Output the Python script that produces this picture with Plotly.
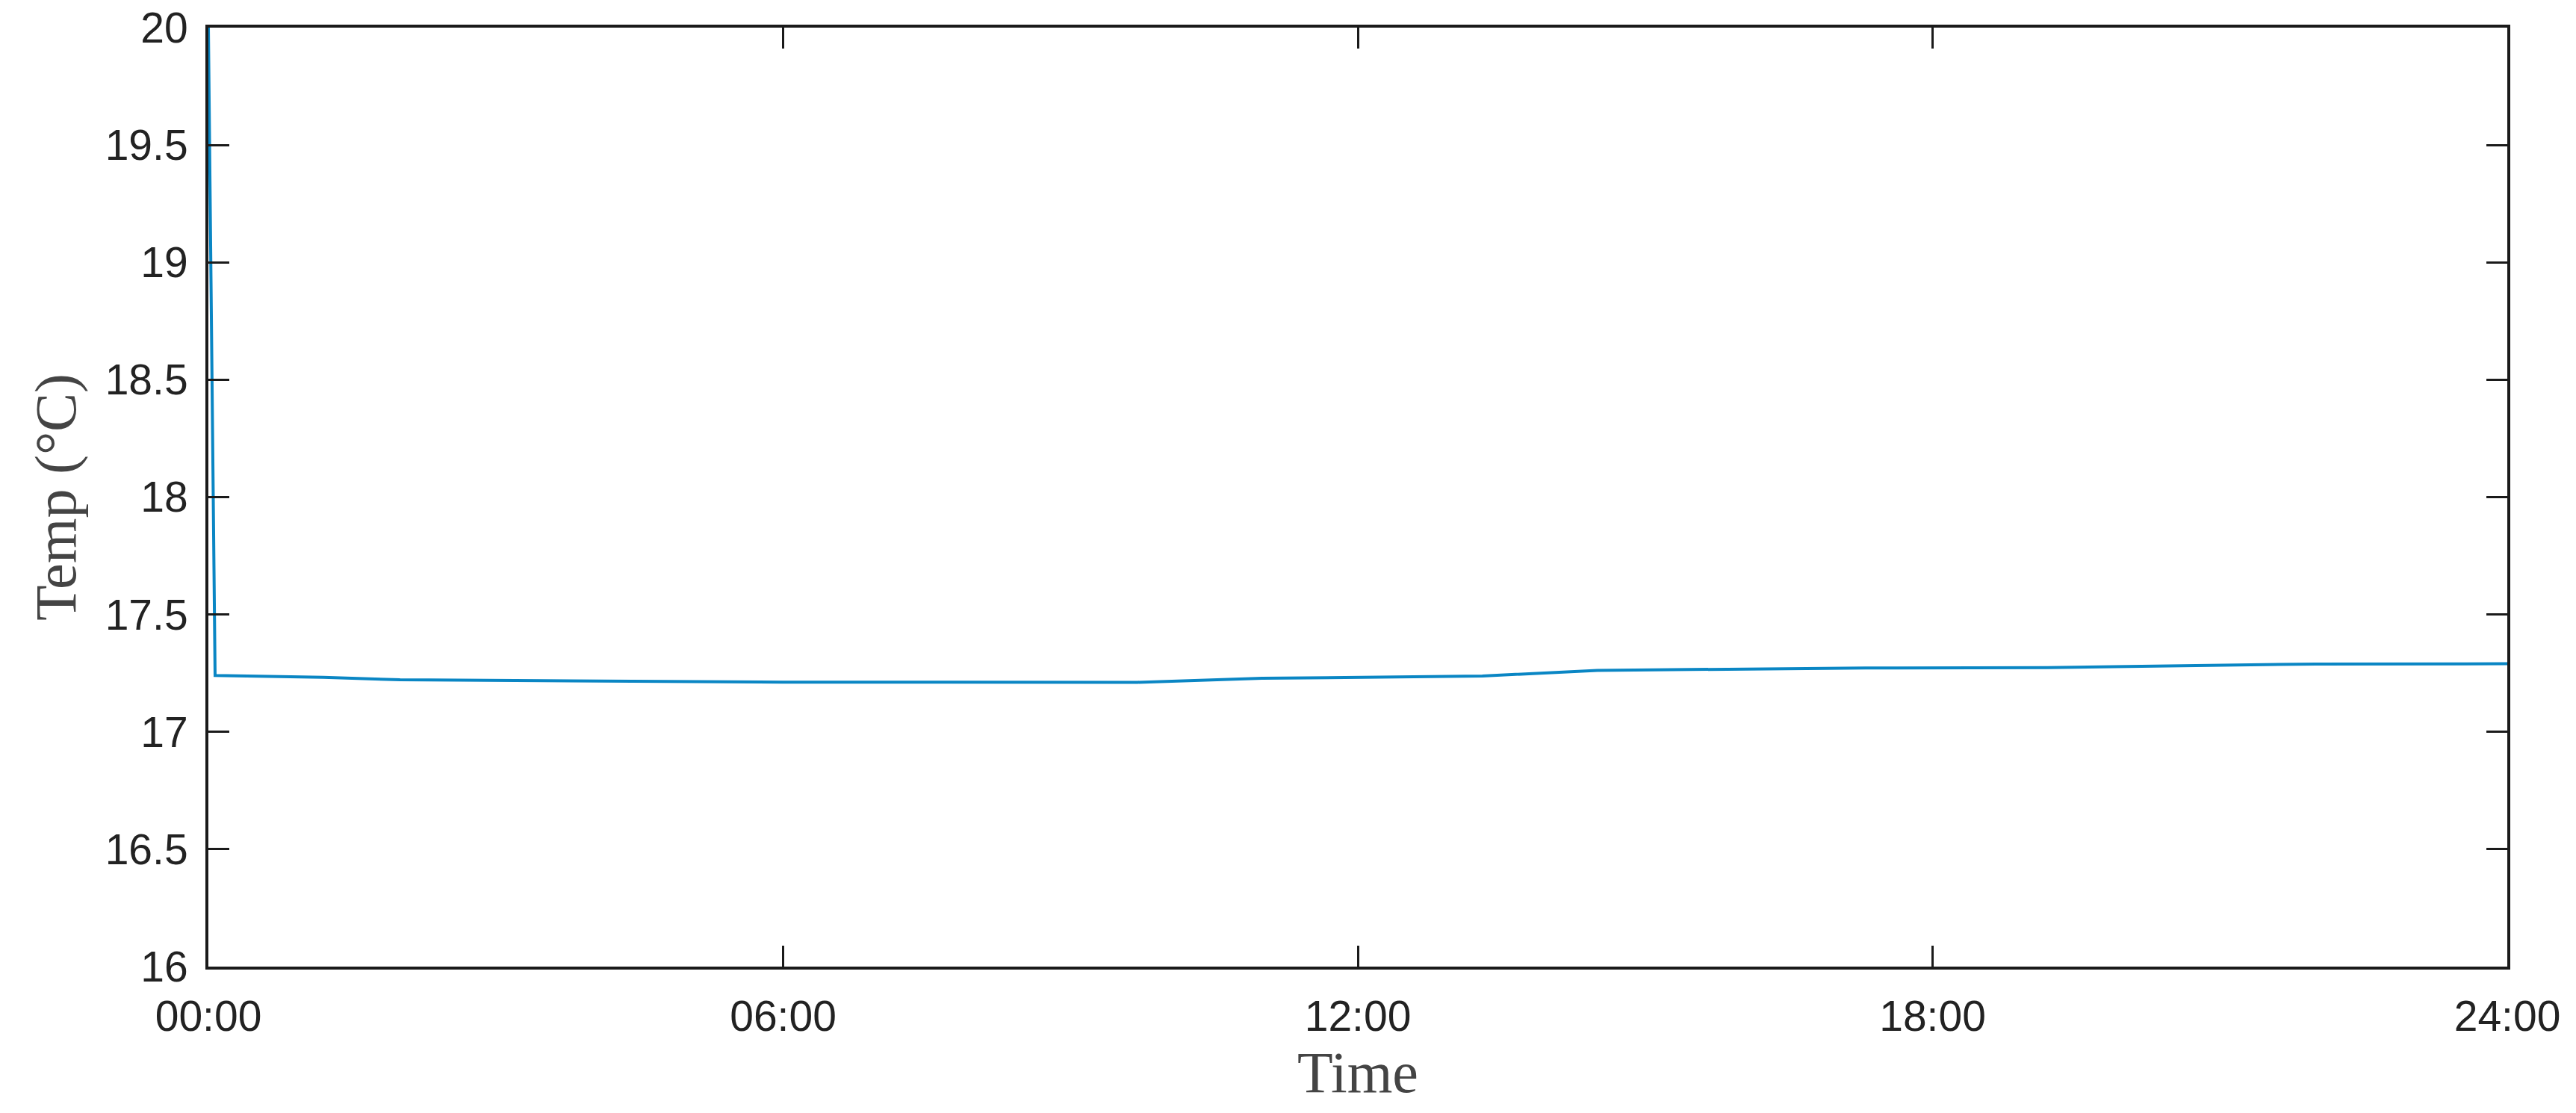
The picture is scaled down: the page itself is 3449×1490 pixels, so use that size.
import plotly.graph_objects as go

# Stunden seit Mitternacht und gemessene Temperatur
stunden = [0.0, 0.07, 1.2, 2.0, 3.5, 6.0, 9.7, 11.0, 13.3, 14.5, 17.3, 19.2, 22.0, 24.0]
temperatur = [20.0, 17.24, 17.232, 17.222, 17.218, 17.212, 17.211, 17.228, 17.238, 17.262, 17.272, 17.274, 17.289, 17.29]

x_ticks = [0, 6, 12, 18, 24]
x_labels = ["00:00", "06:00", "12:00", "18:00", "24:00"]
y_ticks = [16, 16.5, 17, 17.5, 18, 18.5, 19, 19.5, 20]

fig = go.Figure()
fig.add_trace(go.Scatter(
    x=stunden,
    y=temperatur,
    mode="lines",
    line=dict(color="#0a86c4", width=4),
    showlegend=False
))

achse = dict(
    showline=True, linecolor="#1a1a1a", linewidth=4, mirror="ticks",
    ticks="inside", ticklen=28, tickwidth=3, tickcolor="#1a1a1a",
    showgrid=False, zeroline=False, ticklabeloverflow="allow", automargin=False,
    tickfont=dict(family="Liberation Sans, Arial", size=57, color="#222222"),
)

fig.update_layout(
    width=3449, height=1490,
    margin=dict(l=279, r=92, t=37, b=196),
    paper_bgcolor="white", plot_bgcolor="white",
    xaxis=dict(
        achse, range=[0, 24], tickvals=x_ticks, ticktext=x_labels,
        ticklabelstandoff=14,
        title=dict(text="Time", font=dict(family="Liberation Serif, Times New Roman", size=78, color="#444444"), standoff=0),
    ),
    yaxis=dict(
        achse, range=[16, 20], tickvals=y_ticks, ticktext=[f"{v:g}" for v in y_ticks],
        ticklabelstandoff=12,
        title=dict(text="Temp (°C)", font=dict(family="Liberation Serif, Times New Roman", size=78, color="#444444"), standoff=14),
    ),
)

# Seitenrand entfernen, damit die Figur bei (0,0) beginnt
fig.write_html("out.html", config={"displayModeBar": False},
               post_script="document.body.style.margin='0';")
